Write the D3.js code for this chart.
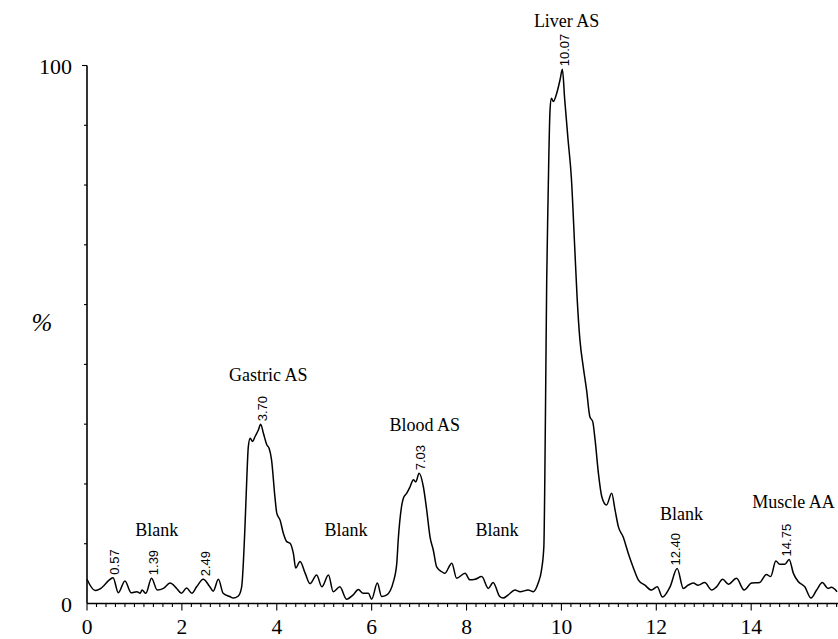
<!DOCTYPE html>
<html>
<head>
<meta charset="utf-8">
<script src="https://cdn.jsdelivr.net/npm/d3@7/dist/d3.min.js"></script>
<style>
  html, body { margin: 0; padding: 0; background: #fff; }
  svg { display: block; }
</style>
</head>
<body>
<svg id="chart" width="838" height="639"></svg>
<script>
// ---- Data ----
const times = [
  0.00, 0.17, 0.27, 0.52, 0.55, 0.66, 0.80, 0.93, 1.05, 1.12, 1.16, 1.24, 1.36, 1.48, 1.61, 1.75, 1.89, 1.99,
  2.10, 2.21, 2.31, 2.45, 2.59, 2.66, 2.77, 2.87, 3.01, 3.08, 3.19, 3.26,
  3.33, 3.37, 3.40, 3.44, 3.49, 3.54, 3.61, 3.66, 3.72, 3.79, 3.84, 3.89, 3.96, 4.00, 4.07, 4.14, 4.21, 4.28, 4.35,
  4.40, 4.49, 4.60, 4.70, 4.84, 4.95, 5.09, 5.19, 5.33, 5.47, 5.61, 5.72, 5.82, 5.93, 6.00, 6.12, 6.21, 6.32, 6.46, 6.53,
  6.56, 6.63, 6.67, 6.74, 6.81, 6.88, 6.93, 7.00, 7.09, 7.16, 7.23, 7.30, 7.37, 7.48, 7.54, 7.69, 7.79, 7.97, 8.07, 8.18,
  8.32, 8.46, 8.56, 8.70, 8.77, 8.88, 9.02, 9.13, 9.30, 9.41, 9.51, 9.58, 9.63,
  9.65, 9.67, 9.69, 9.72, 9.76, 9.79, 9.83, 9.90, 9.97, 10.02, 10.07, 10.14, 10.21, 10.28, 10.33, 10.39, 10.46, 10.53,
  10.60, 10.66, 10.71, 10.78, 10.85, 10.95, 11.06, 11.13, 11.20, 11.30, 11.41, 11.51, 11.62, 11.76, 11.90, 12.02, 12.13,
  12.29, 12.44, 12.57, 12.67, 12.78, 12.88, 13.02, 13.17, 13.27, 13.40, 13.52, 13.69, 13.85, 14.01, 14.18, 14.32, 14.41,
  14.52, 14.60, 14.71, 14.80, 14.89, 14.99, 15.13, 15.26, 15.38, 15.50, 15.62, 15.69, 15.81
];
const intensity = [
  4.5, 2.4, 2.7, 4.7, 4.8, 2.0, 4.2, 2.0, 2.2, 1.9, 2.5, 1.9, 4.7, 2.5, 2.8, 3.8, 2.8, 1.9,
  2.9, 1.9, 3.1, 4.5, 3.1, 2.3, 4.5, 1.9, 1.3, 1.0, 1.4, 3.1,
  14.3, 23.6, 29.1, 30.7, 30.1, 31.0, 32.2, 33.3, 31.6, 29.5, 28.8, 26.7, 19.9, 16.8, 15.5, 13.0, 11.5, 11.2, 9.3,
  6.6, 7.8, 5.6, 3.7, 5.3, 3.1, 5.3, 2.2, 3.1, 0.8, 1.6, 2.6, 1.9, 1.9, 0.8, 3.8, 1.3, 1.6, 4.1, 7.5,
  11.8, 18.0, 19.6, 20.5, 21.7, 23.0, 22.6, 24.2, 21.7, 17.4, 12.4, 9.9, 6.8, 5.9, 5.6, 7.5, 4.7, 5.6, 4.4, 4.5,
  5.0, 2.8, 3.9, 1.3, 1.0, 1.6, 2.5, 2.2, 2.5, 2.2, 3.8, 6.2, 10.6,
  23.0, 41.5, 60.1, 75.9, 91.7, 93.9, 93.3, 94.8, 97.3, 99.3, 93.6, 86.2, 79.1, 66.3, 57.0, 49.0, 44.0, 39.7,
  34.7, 33.8, 30.4, 24.2, 19.9, 18.3, 20.5, 17.4, 14.3, 12.4, 9.3, 6.8, 4.4, 3.4, 2.5, 3.1, 1.2,
  3.1, 6.5, 2.8, 3.4, 3.8, 3.4, 3.9, 2.5, 3.1, 4.5, 3.6, 4.7, 2.5, 3.8, 3.9, 5.4, 5.0,
  7.9, 7.3, 7.3, 8.2, 5.6, 4.1, 3.1, 1.0, 2.5, 3.9, 2.8, 3.0, 2.2
];

// Retention-time labels at peaks
const peakTimes  = [0.57, 1.39, 2.49, 3.70, 7.03, 10.07, 12.40, 14.75];
const peakLabels = ["0.57", "1.39", "2.49", "3.70", "7.03", "10.07", "12.40", "14.75"];

// Sample annotations (anchored in data units: time, % level)
const sampleNames = ["Blank", "Gastric AS", "Blank", "Blood AS", "Blank", "Liver AS", "Blank", "Muscle AA"];
const sampleTimes = [1.47, 3.82, 5.46, 7.12, 8.64, 10.11, 12.53, 14.89];
const sampleLevels = [12.5, 41.4, 12.5, 32.1, 12.5, 107.1, 15.5, 17.7];

// Axis ticks
const xTickLabels = [0, 2, 4, 6, 8, 10, 12, 14];
const yTickLabels = [0, 100];
const xDomain = [0, 15.83];
const yDomain = [0, 100];

// ---- Drawing ----
const svg = d3.select("#chart");
const x = d3.scaleLinear().domain(xDomain).range([87, 838]);
const y = d3.scaleLinear().domain(yDomain).range([603.5, 65.5]);

const serif = "'Liberation Serif', 'Times New Roman', Times, serif";
const sans = "'Liberation Sans', Arial, Helvetica, sans-serif";

const data = times.map((t, i) => ({ t, v: intensity[i] }));

// X axis: major ticks labeled at even values, minor ticks every 0.2
const minorX = d3.range(0, 15.81, 0.2).map(d => +d.toFixed(1));
const gx = svg.append("g").attr("transform", `translate(0,${y(0)})`);
gx.append("line").attr("x1", x(0)).attr("x2", 838).attr("stroke", "#000").attr("stroke-width", 1.6);
gx.selectAll("line.minor").data(minorX).join("line")
  .attr("class", "minor")
  .attr("x1", d => x(d)).attr("x2", d => x(d))
  .attr("y1", 0).attr("y2", d => (Math.abs(d % 2) < 1e-6 ? 7 : 3.5))
  .attr("stroke", "#000").attr("stroke-width", 1.1);
gx.selectAll("text").data(xTickLabels).join("text")
  .attr("x", d => x(d)).attr("y", 30.5)
  .attr("text-anchor", "middle")
  .style("font-family", serif).style("font-size", "21.5px")
  .text(d => d);

// Y axis
const minorY = d3.range(0, 9).map(i => 100 - i * (100 / 9));
const gy = svg.append("g").attr("transform", `translate(${x(0)},0)`);
gy.append("line").attr("y1", y(0)).attr("y2", y(100)).attr("stroke", "#000").attr("stroke-width", 1.6);
gy.selectAll("line.tick").data(minorY).join("line")
  .attr("class", "tick")
  .attr("x1", 0).attr("x2", d => (d === 100 ? -5 : -3))
  .attr("y1", d => y(d)).attr("y2", d => y(d))
  .attr("stroke", "#000").attr("stroke-width", 1.1);
gy.selectAll("text").data(yTickLabels).join("text")
  .attr("x", -15).attr("y", d => y(d) + 8)
  .attr("text-anchor", "end")
  .style("font-family", serif).style("font-size", "22px")
  .text(d => d);

svg.append("text")
  .attr("x", 42).attr("y", 331)
  .attr("text-anchor", "middle")
  .style("font-family", serif).style("font-size", "25px").style("font-style", "italic")
  .text("%");

// Chromatogram trace
const line = d3.line().x(d => x(d.t)).y(d => y(d.v)).curve(d3.curveMonotoneX);
svg.append("path").datum(data)
  .attr("d", line)
  .attr("fill", "none").attr("stroke", "#000").attr("stroke-width", 1.5)
  .attr("stroke-linejoin", "round");

// Peak retention-time labels (rotated)
function localMax(t) {
  let best = 0;
  data.forEach(d => { if (Math.abs(d.t - t) <= 0.12 && d.v > best) best = d.v; });
  return best;
}
peakTimes.forEach((t, i) => {
  const px = x(t), py = y(localMax(t)) - 3;
  svg.append("text")
    .attr("transform", `translate(${px},${py}) rotate(-90)`)
    .attr("dy", "0.35em")
    .attr("text-anchor", "start")
    .style("font-family", sans).style("font-size", "13px")
    .text(peakLabels[i]);
});

// Sample annotations
sampleNames.forEach((name, i) => {
  svg.append("text")
    .attr("x", x(sampleTimes[i])).attr("y", y(sampleLevels[i]))
    .attr("text-anchor", "middle")
    .style("font-family", serif).style("font-size", "18px")
    .text(name);
});
</script>
</body>
</html>
